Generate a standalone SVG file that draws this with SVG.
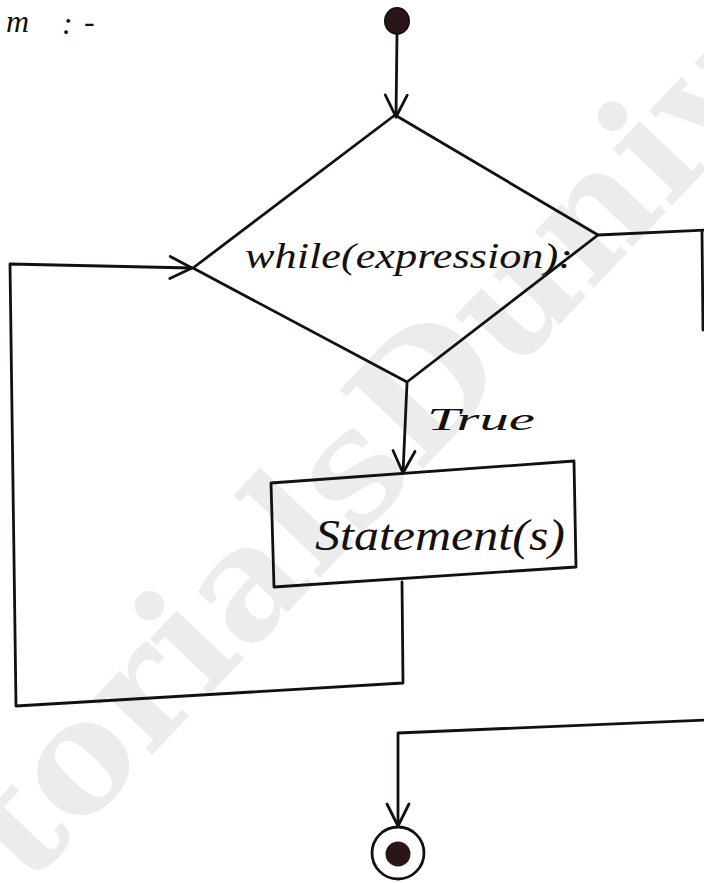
<svg xmlns="http://www.w3.org/2000/svg" width="704" height="883" viewBox="0 0 704 883">
  <style>
    .ink { fill: none; stroke: #141010; stroke-width: 2.8; stroke-linecap: round; stroke-linejoin: round; }
    .hand { font-family: "Liberation Serif", "DejaVu Serif", serif; font-style: italic; fill: #141010; }
    .mark { font-family: "DejaVu Serif", "Liberation Serif", serif; font-weight: bold; fill: #ececec; }
  </style>
  <defs>
    <marker id="arrow" markerUnits="userSpaceOnUse" markerWidth="30" markerHeight="30" viewBox="-26 -15 30 30" refX="0" refY="0" orient="auto">
      <path d="M -22 -11 L 0 0 L -22 11" fill="none" stroke="#141010" stroke-width="2.8" stroke-linecap="round" stroke-linejoin="round"/>
    </marker>
  </defs>

  <rect width="704" height="883" fill="#ffffff"/>

  <!-- background watermark -->
  <text class="mark" font-size="157" transform="translate(-122,1045) rotate(-46.6)">TutorialsDuniya</text>

  <!-- heading fragment at the top-left -->
  <g id="heading">
    <text class="hand" font-size="32"><tspan x="6" y="32">m</tspan><tspan x="62" y="34">:</tspan><tspan x="84" y="32">-</tspan></text>
  </g>

  <!-- connectors -->
  <g id="connectors">
    <path class="ink" d="M397 34 L396 117" marker-end="url(#arrow)"/>
    <path class="ink" d="M407 383 L403 473" marker-end="url(#arrow)"/>
    <path class="ink" d="M402 582 L403 683 L16 706 L10 264 L192 268" marker-end="url(#arrow)"/>
    <path class="ink" d="M598 235 L706 230"/>
    <path class="ink" d="M702 232 L703 330" stroke-width="3.6"/>
    <path class="ink" d="M706 720 L398 733 L398 826" marker-end="url(#arrow)"/>
  </g>

  <!-- start node -->
  <g id="start">
    <ellipse cx="397" cy="21" rx="12" ry="13" fill="#2a1616" stroke="#141010" stroke-width="2"/>
  </g>

  <!-- decision node -->
  <g id="decision">
    <polygon class="ink" points="395,115 598,235 407,382 193,268"/>
    <text class="hand" x="245" y="268" font-size="36" textLength="328" lengthAdjust="spacingAndGlyphs">while(expression):</text>
  </g>

  <!-- branch label -->
  <g id="label-true">
    <text class="hand" x="427" y="430" font-size="32" textLength="108" lengthAdjust="spacingAndGlyphs">True</text>
  </g>

  <!-- loop body -->
  <g id="statement">
    <polygon class="ink" points="271,483 574,461 576,567 274,587"/>
    <text class="hand" x="315" y="550" font-size="44" textLength="250" lengthAdjust="spacingAndGlyphs">Statement(s)</text>
  </g>

  <!-- end node -->
  <g id="end">
    <circle cx="398" cy="853" r="26" fill="#ffffff" stroke="#141010" stroke-width="2.8"/>
    <circle cx="398" cy="854" r="12.5" fill="#2a1616"/>
  </g>
</svg>
